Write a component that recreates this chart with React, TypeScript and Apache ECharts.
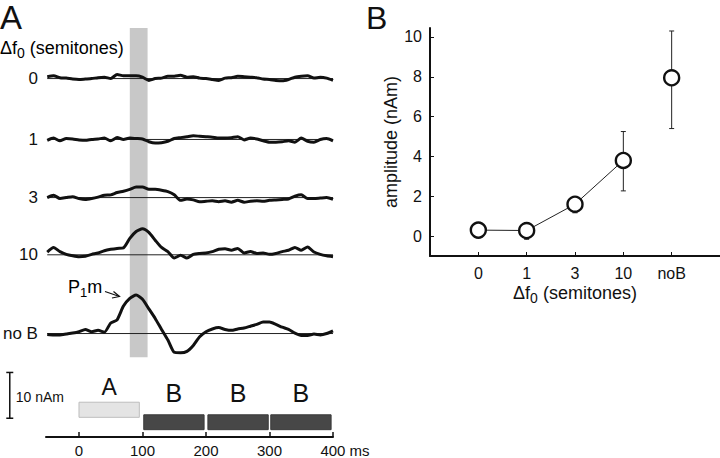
import React, { useEffect, useRef } from 'react';
import * as echarts from 'echarts';

const FONT = '"Liberation Sans", Arial, Helvetica, sans-serif';

// ---------- Panel A data ----------
const timeMs = [-50, -40, -30, -20, -10, 0, 10, 20, 30, 40, 50, 60, 70, 80, 90, 100, 110, 120, 130, 140, 150, 160, 170, 180, 190, 200, 210, 220, 230, 240, 250, 260, 270, 280, 290, 300, 310, 320, 330, 340, 350, 360, 370, 380, 390, 400];

const wave0 = [0.4, 0.6, 0.2, 0.1, -0.1, -0.2, -0.1, 0.0, 0.2, 0.3, 0.0, 0.9, 0.6, 0.6, 0.6, 0.3, -0.4, 0.0, 0.1, 0.5, 0.5, 0.7, 0.3, 0.4, 0.1, 0.0, -0.2, -0.4, 0.1, 0.2, 0.5, 0.4, 0.3, 0.2, -0.1, -0.2, -0.4, -0.5, -0.2, 0.3, 0.5, 0.6, 0.1, 0.3, 0.1, -0.4];
const wave1 = [-0.2, 0.3, -0.3, 0.2, 0.1, -0.1, -0.2, 0.0, 0.1, 0.3, -0.3, 0.4, 0.0, 0.3, 0.2, 0.1, -0.5, -0.8, -0.7, -0.4, 0.2, 0.4, 0.6, 0.8, 0.7, 0.6, 0.5, 0.3, 0.3, 0.4, 0.6, -0.1, 0.3, 0.1, -0.3, -0.6, -0.6, -0.5, -0.3, -0.6, 0.3, -0.4, -0.6, 0.0, 0.2, -0.3];
const wave3 = [0.0, 0.5, -0.2, 0.0, 0.2, -0.2, -0.4, -0.2, 0.1, 0.5, 0.6, 1.1, 1.4, 1.8, 2.3, 2.3, 1.8, 1.8, 1.6, 1.3, 0.6, -0.6, -0.3, -0.5, -0.9, -0.8, -0.7, -0.9, -0.7, -1.0, -0.6, -1.0, -0.8, -0.7, -0.8, -0.6, -0.5, -0.4, -0.3, 0.3, 0.6, -0.2, -0.2, -0.1, 0.0, -0.4];
const wave10 = [0.6, 1.6, 0.7, 0.1, -0.2, -0.4, -0.3, 0.1, 0.4, 0.9, 1.2, 1.4, 1.5, 3.6, 5.1, 5.7, 4.9, 3.2, 1.6, 0.7, -0.7, -0.1, -0.7, 0.1, 0.3, 0.4, 0.7, 1.2, 1.3, 1.0, 1.4, 0.4, 0.7, 0.3, 0.4, 0.1, 0.3, 0.7, 1.0, 1.6, 1.0, 1.7, 0.6, 0.1, -0.2, -0.4];
const waveNoB = [-0.2, -0.3, -0.3, -0.1, 0.1, 0.4, 0.9, 0.4, 0.7, 0.3, 2.3, 3.0, 6.0, 7.7, 8.4, 7.5, 5.4, 3.3, 0.9, -1.4, -4.1, -4.2, -3.9, -2.6, -0.7, 0.4, 1.0, 1.3, 0.9, 0.7, 1.0, 1.2, 1.6, 2.0, 2.5, 2.5, 2.0, 1.4, 0.9, 0.1, -0.4, -0.4, -0.1, -0.3, 0.0, 0.6];

const traceLabels = ['0', '1', '3', '10', 'no B'];
const waves = [wave0, wave1, wave3, wave10, waveNoB];

const bandStart = 80;
const bandEnd = 108;

const stimStart = [0, 102, 203, 302];
const stimEnd = [95, 197, 298, 397];
const stimNames = ['A', 'B', 'B', 'B'];

const timeTicks = [0, 100, 200, 300, 400];
const timeUnit = 'ms';
const scaleBarNAm = 10;

// ---------- Panel B data ----------
const categories = ['0', '1', '3', '10', 'noB'];
const amplitude = [0.3, 0.28, 1.6, 3.8, 7.95];
const errLow = [0.22, -0.16, 1.17, 2.27, 5.4];
const errHigh = [0.38, 0.68, 1.97, 5.25, 10.3];
const ampTicks = [0, 2, 4, 6, 8, 10];

// ---------- layout ----------
const PX_PER_NAM = 4.6;
const A_TOP = 28;
const A_BOTTOM = 19;
const A_YMAX = (458 - A_TOP - A_BOTTOM) / PX_PER_NAM;
const traceOffsets = [78.3, 65.0, 52.3, 39.8, 22.6];
const BAND_BOTTOM = 17.4;

function buildOption() {
  const series: any[] = [];

  // gray band
  series.push({
    type: 'custom',
    xAxisIndex: 0,
    yAxisIndex: 0,
    z: 1,
    silent: true,
    data: [[bandStart, bandEnd]],
    renderItem: (_p: any, api: any) => {
      const a = api.coord([api.value(0), A_YMAX]);
      const b = api.coord([api.value(1), BAND_BOTTOM]);
      return {
        type: 'rect',
        shape: { x: a[0], y: a[1], width: b[0] - a[0], height: b[1] - a[1] },
        style: { fill: '#c8c8c8' },
      };
    },
  });

  // baselines + traces
  waves.forEach((w, i) => {
    const off = traceOffsets[i];
    series.push({
      type: 'line',
      xAxisIndex: 0,
      yAxisIndex: 0,
      z: 2,
      silent: true,
      symbol: 'none',
      data: [[timeMs[0], off], [timeMs[timeMs.length - 1], off]],
      lineStyle: { color: '#222', width: 1 },
    });
    series.push({
      type: 'line',
      xAxisIndex: 0,
      yAxisIndex: 0,
      z: 3,
      silent: true,
      symbol: 'none',
      smooth: 0.2,
      data: timeMs.map((t, j) => [t, w[j] + off]),
      lineStyle: { color: '#111', width: 3 },
    });
  });

  // stimuli
  series.push({
    type: 'custom',
    xAxisIndex: 0,
    yAxisIndex: 0,
    z: 3,
    silent: true,
    data: stimStart.map((s, i) => [s, stimEnd[i]]),
    renderItem: (p: any, api: any) => {
      const i = p.dataIndex;
      const isA = stimNames[i] === 'A';
      const yLo = isA ? 4.3 : 1.6;
      const yHi = isA ? 7.6 : 4.85;
      const a = api.coord([api.value(0), yHi]);
      const b = api.coord([api.value(1), yLo]);
      const lab = api.coord([(api.value(0) + api.value(1)) / 2, isA ? 10.9 : 9.7]);
      return {
        type: 'group',
        children: [
          {
            type: 'rect',
            shape: { x: a[0], y: a[1], width: b[0] - a[0], height: b[1] - a[1] },
            style: isA
              ? { fill: '#e4e4e4', stroke: '#bdbdbd', lineWidth: 1 }
              : { fill: '#474747', stroke: '#3a3a3a', lineWidth: 1 },
          },
          {
            type: 'text',
            x: lab[0],
            y: lab[1],
            style: {
              text: stimNames[i],
              fill: '#111',
              fontSize: isA ? 23 : 25,
              fontFamily: FONT,
              align: 'center',
              verticalAlign: 'middle',
            },
          },
        ],
      };
    },
  });

  // scale bar
  series.push({
    type: 'custom',
    xAxisIndex: 0,
    yAxisIndex: 0,
    z: 3,
    silent: true,
    clip: false,
    data: [[scaleBarNAm]],
    renderItem: (_p: any, api: any) => {
      const base = 4.1;
      const bot = api.coord([-109, base]);
      const top = api.coord([-109, base + api.value(0)]);
      return {
        type: 'group',
        children: [
          { type: 'line', shape: { x1: bot[0], y1: bot[1], x2: top[0], y2: top[1] }, style: { stroke: '#111', lineWidth: 1.5 } },
          { type: 'line', shape: { x1: bot[0] - 3.5, y1: bot[1], x2: bot[0] + 3.5, y2: bot[1] }, style: { stroke: '#111', lineWidth: 1.5 } },
          { type: 'line', shape: { x1: top[0] - 3.5, y1: top[1], x2: top[0] + 3.5, y2: top[1] }, style: { stroke: '#111', lineWidth: 1.5 } },
          {
            type: 'text',
            x: bot[0] + 6,
            y: (bot[1] + top[1]) / 2 + 2,
            style: { text: api.value(0) + ' nAm', fill: '#111', fontSize: 14, fontFamily: FONT, align: 'left', verticalAlign: 'middle' },
          },
        ],
      };
    },
  });

  // Panel B: error bars
  series.push({
    type: 'custom',
    xAxisIndex: 1,
    yAxisIndex: 1,
    z: 3,
    silent: true,
    data: categories.map((_c, i) => [i, errLow[i], errHigh[i]]),
    renderItem: (_p: any, api: any) => {
      const lo = api.coord([api.value(0), api.value(1)]);
      const hi = api.coord([api.value(0), api.value(2)]);
      const st = { stroke: '#222', lineWidth: 1 };
      return {
        type: 'group',
        children: [
          { type: 'line', shape: { x1: lo[0], y1: lo[1], x2: hi[0], y2: hi[1] }, style: st },
          { type: 'line', shape: { x1: lo[0] - 2.5, y1: lo[1], x2: lo[0] + 2.5, y2: lo[1] }, style: st },
          { type: 'line', shape: { x1: hi[0] - 2.5, y1: hi[1], x2: hi[0] + 2.5, y2: hi[1] }, style: st },
        ],
      };
    },
  });

  const markerStyle = { color: '#fff', borderColor: '#111', borderWidth: 2.4, opacity: 1 };
  series.push({
    type: 'line',
    xAxisIndex: 1,
    yAxisIndex: 1,
    z: 4,
    silent: true,
    symbol: 'circle',
    symbolSize: 15,
    showAllSymbol: true,
    data: amplitude.slice(0, 4).map((v, i) => [i, v]),
    lineStyle: { color: '#222', width: 1 },
    itemStyle: markerStyle,
  });
  series.push({
    type: 'scatter',
    xAxisIndex: 1,
    yAxisIndex: 1,
    z: 4,
    silent: true,
    symbol: 'circle',
    symbolSize: 15,
    data: [[4, amplitude[4]]],
    itemStyle: markerStyle,
  });

  const sub = (main: number, small: number) => ({
    n: { fontSize: main, fontFamily: FONT, color: '#111' },
    s: { fontSize: small, fontFamily: FONT, color: '#111', padding: [Math.round(main * 0.55), 0, 0, 0] },
  });

  const lastTick = timeTicks[timeTicks.length - 1];

  return {
    animation: false,
    grid: [
      { left: 44, width: 289, top: A_TOP, bottom: A_BOTTOM, containLabel: false },
      { left: 430, right: 0, top: 28, bottom: 202, containLabel: false },
    ],
    xAxis: [
      {
        type: 'value',
        gridIndex: 0,
        min: -52,
        max: 400,
        axisLine: { show: true, lineStyle: { color: '#111', width: 2 } },
        axisTick: { show: true, inside: true, length: 5, customValues: timeTicks, lineStyle: { color: '#111', width: 1.5 } },
        axisLabel: {
          customValues: timeTicks,
          formatter: (v: number) => (v === lastTick ? `{pad|}{t|${v}}{t| ${timeUnit}}` : `{t|${v}}`),
          rich: {
            t: { fontSize: 15, fontFamily: FONT, color: '#111' },
            pad: { width: 24 },
          },
          color: '#111',
          fontSize: 15,
          fontFamily: FONT,
          margin: 6,
        },
        splitLine: { show: false },
      },
      {
        type: 'value',
        gridIndex: 1,
        min: -1,
        max: 5,
        axisLine: { show: true, onZero: false, lineStyle: { color: '#111', width: 2 } },
        axisTick: { show: true, inside: true, length: 4, customValues: [0, 1, 2, 3, 4], lineStyle: { color: '#111', width: 1 } },
        axisLabel: {
          customValues: [0, 1, 2, 3, 4],
          formatter: (v: number) => categories[Math.round(v)] ?? '',
          color: '#111',
          fontSize: 16,
          fontFamily: FONT,
          margin: 9,
        },
        splitLine: { show: false },
        name: '{n|Δf}{s|0}{n| (semitones)}',
        nameLocation: 'middle',
        nameGap: 25,
        nameTextStyle: { rich: sub(18, 14) },
      },
    ],
    yAxis: [
      {
        type: 'value',
        gridIndex: 0,
        min: 0,
        max: A_YMAX,
        axisLine: { show: false },
        axisTick: { show: false },
        splitLine: { show: false },
        axisLabel: {
          customValues: traceOffsets,
          formatter: (v: number) => {
            let best = 0;
            traceOffsets.forEach((o, i) => {
              if (Math.abs(o - v) < Math.abs(traceOffsets[best] - v)) best = i;
            });
            return traceLabels[best];
          },
          color: '#111',
          fontSize: 17,
          fontFamily: FONT,
          margin: 8,
        },
      },
      {
        type: 'value',
        gridIndex: 1,
        min: -1,
        max: 10.45,
        axisLine: { show: true, onZero: false, lineStyle: { color: '#111', width: 2 } },
        axisTick: { show: true, inside: true, length: 4, customValues: ampTicks, lineStyle: { color: '#111', width: 1 } },
        axisLabel: { customValues: ampTicks, color: '#111', fontSize: 16, fontFamily: FONT, margin: 8 },
        splitLine: { show: false },
        name: 'amplitude (nAm)',
        nameLocation: 'middle',
        nameGap: 30,
        nameTextStyle: { fontSize: 18, fontFamily: FONT, color: '#111' },
      },
    ],
    series,
    graphic: [
      { type: 'text', left: 0, top: 1, style: { text: 'A', fontSize: 33, fontFamily: FONT, fill: '#111' } },
      { type: 'text', left: 366, top: 2, style: { text: 'B', fontSize: 32, fontFamily: FONT, fill: '#111' } },
      {
        type: 'text',
        left: 0,
        top: 39,
        style: { text: '{n|Δf}{s|0}{n| (semitones)}', rich: sub(18, 14) },
      },
      {
        type: 'text',
        left: 68,
        top: 278,
        style: { text: '{n|P}{s|1}{n|m}', rich: sub(18, 13) },
      },
      { type: 'line', shape: { x1: 105, y1: 291.5, x2: 119.5, y2: 296.5 }, style: { stroke: '#111', lineWidth: 1.2 } },
      { type: 'polyline', shape: { points: [[113.5, 291.5], [119.5, 296.5], [112, 298]] }, style: { stroke: '#111', lineWidth: 1.2, fill: 'none' } },
    ],
  };
}

export default function App() {
  const ref = useRef<HTMLDivElement>(null);
  useEffect(() => {
    document.body.style.margin = '0';
    const chart = echarts.init(ref.current!, null, { renderer: 'svg' });
    chart.setOption(buildOption() as any);
    return () => chart.dispose();
  }, []);
  return <div ref={ref} style={{ width: 720, height: 458 }} />;
}
